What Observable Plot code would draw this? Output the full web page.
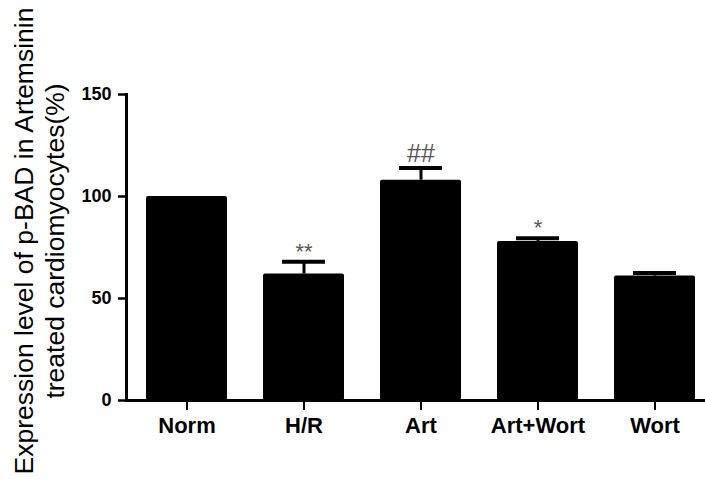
<!DOCTYPE html>
<html>
<head>
<meta charset="utf-8">
<script src="https://cdn.jsdelivr.net/npm/d3@7"></script>
<script src="https://cdn.jsdelivr.net/npm/@observablehq/plot@0.6"></script>
<style>
  html, body { margin: 0; padding: 0; background: #fff; }
  #chart { width: 705px; height: 485px; }
</style>
</head>
<body>
<div id="chart"></div>
<script>
const categories = ["Norm", "H/R", "Art", "Art+Wort", "Wort"];
const values = [100, 62, 108, 78, 61];
const errors = [0, 6, 6, 1.5, 1.5];
const signif = ["", "**", "##", "*", ""];
const yTicks = [0, 50, 100, 150];
const titleLines = ["Expression level of p-BAD in Artemsinin", "treated cardiomyocytes(%)"];

const data = categories.map((c, i) => ({cat: c, val: values[i], err: errors[i], top: values[i] + errors[i], sig: signif[i]}));
const withErr = data.filter(d => d.err > 0);
const stars = data.filter(d => d.sig.startsWith("*"));
const hashes = data.filter(d => d.sig.startsWith("#"));

const font = "'Liberation Sans', Arial, Helvetica, sans-serif";

const chart = Plot.plot({
  width: 705,
  height: 485,
  marginLeft: 126,
  marginRight: 0,
  marginTop: 94,
  marginBottom: 85,
  style: {fontFamily: font, background: "white", color: "black", overflow: "visible"},
  x: {type: "band", domain: categories, range: [126, 714], paddingInner: 0.309, paddingOuter: 0.162, label: null},
  y: {domain: [0, 150], label: null},
  marks: [
    Plot.barY(data, {x: "cat", y: "val", fill: "black", rx: 2}),
    Plot.ruleX(withErr, {x: "cat", y1: "val", y2: "top", stroke: "black", strokeWidth: 3}),
    Plot.tickY(withErr, {x: "cat", y: "top", stroke: "black", strokeWidth: 4, insetLeft: 19, insetRight: 19}),
    Plot.text(stars, {x: "cat", y: "top", text: "sig", fontSize: 22, fill: "#555", dy: -10, lineAnchor: "middle"}),
    Plot.text(hashes, {x: "cat", y: "top", text: "sig", fontSize: 25, fill: "#555", dy: -13.5, lineAnchor: "middle"}),
    Plot.frame({anchor: "left", strokeWidth: 3}),
    Plot.frame({anchor: "bottom", strokeWidth: 3}),
    Plot.axisY({ticks: yTicks, tickSize: 8, tickPadding: 7, fontSize: 18, fontWeight: "bold", strokeWidth: 2.5, label: null}),
    Plot.axisX({tickSize: 10, tickPadding: 7, fontSize: 22, fontWeight: "bold", strokeWidth: 2, label: null})
  ]
});

document.getElementById("chart").appendChild(chart);

const svg = d3.select(chart);
const baselines = [33, 64];
titleLines.forEach((t, i) => {
  svg.append("text")
    .attr("transform", `translate(${baselines[i]},241) rotate(-90)`)
    .attr("text-anchor", "middle")
    .attr("font-family", font)
    .attr("font-size", 26.5)
    .attr("fill", "black")
    .text(t);
});
</script>
</body>
</html>
